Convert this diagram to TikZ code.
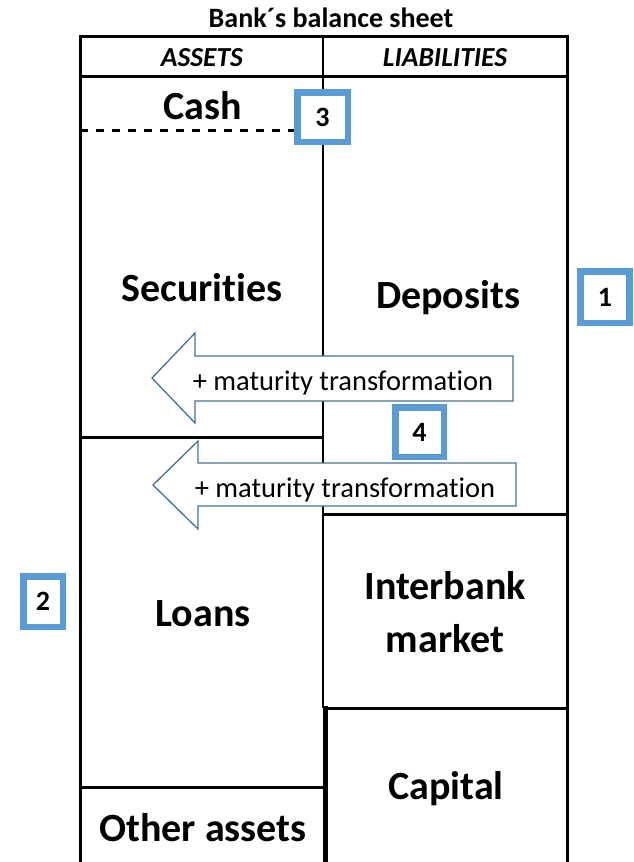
\documentclass[tikz,border=0pt]{standalone}
\usepackage{fontspec}
\setmainfont{Carlito}[Ligatures=NoCommon]
\definecolor{numblue}{RGB}{91,155,213}
\definecolor{arrblue}{RGB}{65,113,156}
\begin{document}
\begin{tikzpicture}[x=1pt,y=-1pt,
  frame/.style={line width=3pt,black},
  big/.style={font=\fontsize{40}{53}\selectfont\bfseries},
  hdr/.style={font=\fontsize{27.5}{30}\selectfont\bfseries\itshape},
  ttl/.style={font=\fontsize{28}{30}\selectfont\bfseries},
  arrtxt/.style={font=\fontsize{28.5}{30}\selectfont},
  numbox/.style={draw=numblue,line width=6.5pt,fill=white,inner sep=0pt,font=\fontsize{28}{30}\selectfont\bfseries},
  bigarrow/.style={draw=arrblue,line width=1.3pt,fill=white,line join=miter}
]
\useasboundingbox (0,0) rectangle (633,862);
% frame lines
\draw[frame] (80,36) -- (567,36);
\draw[frame] (80,76) -- (567,76);
\draw[frame] (80,34.5) -- (80,862);
\draw[frame] (567,34.5) -- (567,862);
\draw[line width=2.6pt] (323,36) -- (323,708);
\draw[line width=5pt] (325,706) -- (325,862);
\draw[frame] (80,437) -- (323,437);
\draw[frame] (323,514) -- (567,514);
\draw[frame] (323,708) -- (567,708);
\draw[frame] (80,787) -- (323,787);
\draw[line width=3pt,dash pattern=on 8pt off 8pt] (80,130) -- (296,130);
% texts
\node[ttl] (title) at (331,18) {Bank´s balance sheet};
\node[hdr] (assets) at (202,58) {ASSETS};
\node[hdr] (liab) at (445,58) {LIABILITIES};
\node[big] (cash) at (203,106) {Cash};
\node[big] (sec) at (202,288) {Securities};
\node[big] (dep) at (448,298) {Deposits};
\node[big,align=center] (inter) at (445,612) {Interbank\\market};
\node[big] (loans) at (203,614) {Loans};
\node[big] (cap) at (446,789) {Capital};
\node[big] (other) at (203,828) {Other assets};
% arrows
\draw[bigarrow] (513,356) -- (195,356) -- (195,333) -- (152,378) -- (195,423) -- (195,401) -- (513,401) -- cycle;
\node[arrtxt] (mt1) at (343,383) {+ maturity transformation};
\draw[bigarrow] (516,463) -- (198,463) -- (198,441) -- (153,485) -- (198,529) -- (198,506) -- (516,506) -- cycle;
\node[arrtxt] (mt2) at (345,490) {+ maturity transformation};
% number boxes
\node[numbox,minimum width=50.5pt,minimum height=49.5pt] (n3) at (322.5,117) {3};
\node[numbox,minimum width=48.5pt,minimum height=49.5pt] (n4) at (419.5,432) {4};
\node[numbox,minimum width=49pt,minimum height=51.5pt] (n1) at (605,297) {1};
\node[numbox,minimum width=39.5pt,minimum height=50.5pt] (n2) at (43,601.5) {2};
\end{tikzpicture}
\end{document}
